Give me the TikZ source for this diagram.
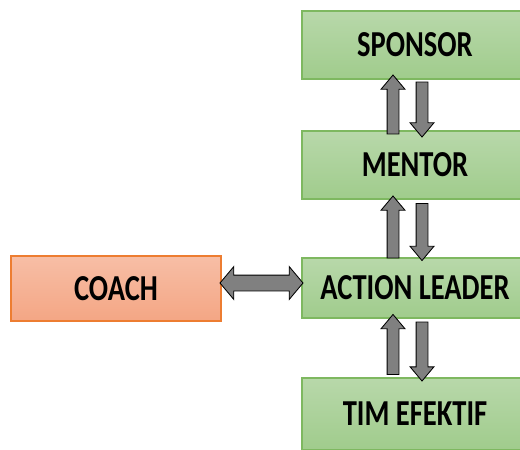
\documentclass[tikz,border=0pt]{standalone}
\usepackage{fontspec}
\setmainfont{Carlito}
\newfontfamily\boxfont[FakeStretch=0.78]{Carlito}
\usepackage{xcolor}
\usetikzlibrary{shapes.arrows}

\definecolor{greentop}{RGB}{184,216,170}
\definecolor{greenbot}{RGB}{160,204,140}
\definecolor{greenline}{RGB}{126,184,96}
\definecolor{orangetop}{RGB}{247,190,166}
\definecolor{orangebot}{RGB}{244,166,132}
\definecolor{orangeline}{RGB}{237,125,49}
\definecolor{arrowgray}{RGB}{128,128,128}

\tikzset{
  greenbox/.style={draw=greenline, thick, top color=greentop, bottom color=greenbot,
    minimum width=226*0.025cm, font=\boxfont\bfseries\fontsize{26}{26}\selectfont},
  orangebox/.style={draw=orangeline, thick, top color=orangetop, bottom color=orangebot,
    minimum width=210*0.025cm, minimum height=65*0.025cm, font=\boxfont\bfseries\fontsize{26}{26}\selectfont},
  fatarrow/.style={single arrow, draw=black, fill=arrowgray, semithick,
    inner xsep=0pt, inner ysep=5.5*0.025cm, minimum width=23*0.025cm,
    single arrow head extend=6*0.025cm, single arrow tip angle=80, rotate=#1},
  twoarrow/.style={double arrow, draw=black, fill=arrowgray, semithick,
    inner xsep=0pt, inner ysep=7.5*0.025cm, minimum width=32*0.025cm,
    double arrow head extend=8.5*0.025cm, double arrow tip angle=100}
}

\begin{document}
\begin{tikzpicture}[x=0.025cm, y=-0.025cm]
				\useasboundingbox (0,0) rectangle (520,449);
				\node[greenbox, minimum height=68*0.025cm] (spon) at (415,45){SPONSOR};
				\node[greenbox, minimum height=68*0.025cm] (ment) at (415,165){MENTOR};
				\node[greenbox, minimum height=60*0.025cm] (lead) at (415,288){ACTION LEADER};
				\node[greenbox, minimum height=72*0.025cm] (tim) at (415,414){TIM EFEKTIF};
				\node[orangebox] (coach) at (116,288.5){COACH};
				\coordinate (upx) at (393,0);
				\coordinate (downx) at (422,0);
				% naik
				\path (ment.north -| upx) -- (spon.south -| upx) node[midway, yshift=-3*0.025cm, fatarrow=90, minimum height=59*0.025cm]{};
				\path (lead.north -| upx) -- (ment.south -| upx) node[midway, yshift=-2*0.025cm, fatarrow=90, minimum height=62*0.025cm]{};
				\path (tim.north -| upx) -- (lead.south -| upx) node[midway, fatarrow=90, minimum height=60*0.025cm]{};
				% turun
				\path (spon.south -| downx) -- (ment.north -| downx) node[midway, yshift=-1*0.025cm, fatarrow=-90, minimum height=55*0.025cm]{};
				\path (ment.south -| downx) -- (lead.north -| downx) node[midway, fatarrow=-90, minimum height=57*0.025cm]{};
				\path (lead.south -| downx) -- (tim.north -| downx) node[midway, fatarrow=-90, minimum height=59*0.025cm]{};
				% coach
				\path (coach.east |- 0,283) -- (lead.west |- 0,283) node[midway, twoarrow, minimum height=83*0.025cm]{};
			\end{tikzpicture}
\end{document}
